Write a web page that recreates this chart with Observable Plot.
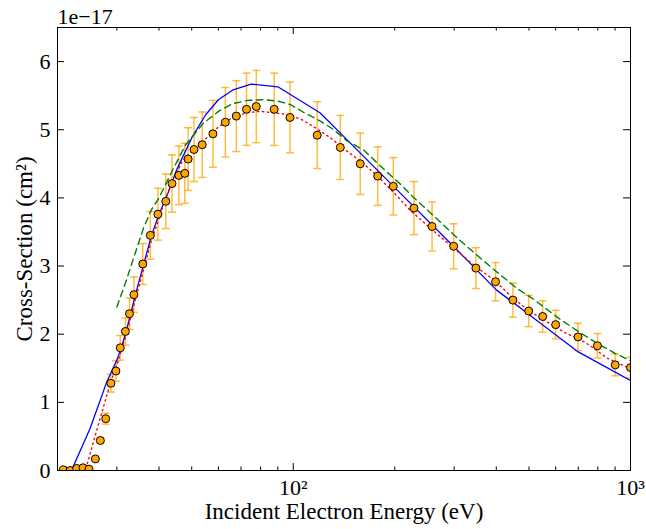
<!DOCTYPE html>
<html>
<head>
<meta charset="utf-8">
<script src="https://cdn.jsdelivr.net/npm/d3@7"></script>
<script src="https://cdn.jsdelivr.net/npm/@observablehq/plot@0.6"></script>
<style>
  html, body { margin: 0; padding: 0; background: #fff; }
</style>
</head>
<body>
<div id="chart"></div>
<script>
// Measured ionization cross-section (units of 1e-17 cm^2) with error bars
const energy = [20.8, 21.8, 22.8, 23.8, 24.8, 25.9, 26.8, 27.8, 28.8, 29.8,
  30.7, 31.8, 32.7, 33.7, 35.8, 37.7, 39.7, 41.9, 43.7, 45.8,
  47.7, 48.8, 50.8, 53.7, 57.8, 62.9, 67.8, 72.7, 77.7, 87.8,
  97.8, 117.8, 137.9, 158, 178, 198, 228, 258, 299, 348,
  398, 448, 499, 549, 600, 699, 798, 901, 1000];
const crossSection = [0.01, 0.00, 0.03, 0.04, 0.02, 0.17, 0.44, 0.76, 1.28, 1.46,
  1.80, 2.04, 2.30, 2.58, 3.03, 3.45, 3.76, 3.95, 4.21, 4.33,
  4.36, 4.57, 4.71, 4.78, 4.94, 5.11, 5.20, 5.30, 5.34, 5.30,
  5.18, 4.92, 4.74, 4.50, 4.32, 4.17, 3.85, 3.58, 3.29, 2.97,
  2.77, 2.50, 2.34, 2.26, 2.14, 1.96, 1.83, 1.55, 1.51];
const crossSectionErr = [0, 0, 0, 0, 0, 0.02, 0.04, 0.08, 0.13, 0.15,
  0.18, 0.20, 0.23, 0.26, 0.30, 0.35, 0.38, 0.40, 0.42, 0.43,
  0.44, 0.46, 0.47, 0.48, 0.49, 0.51, 0.52, 0.53, 0.53, 0.53,
  0.52, 0.49, 0.47, 0.45, 0.43, 0.42, 0.39, 0.36, 0.33, 0.30,
  0.28, 0.25, 0.23, 0.23, 0.21, 0.20, 0.18, 0.16, 0.15];

// Theory curve 1 (solid blue)
const theoryAEnergy = [22, 25, 28, 30, 31, 32, 33, 34, 36, 38, 40, 42, 45, 50, 55, 60, 66, 75, 90, 120, 150, 200, 300, 400, 500, 700, 1000];
const theoryAValue = [0, 0.62, 1.30, 1.62, 1.82, 2.05, 2.31, 2.57, 3.02, 3.45, 3.76, 4.00, 4.40, 4.88, 5.22, 5.44, 5.58, 5.67, 5.63, 5.25, 4.77, 4.15, 3.28, 2.65, 2.29, 1.74, 1.32];

// Theory curve 2 (dashed green)
const theoryBEnergy = [30, 32, 34, 36, 38, 40, 44, 48, 54, 60, 66, 73, 82, 90, 98, 107, 120, 131, 144, 162, 181, 210, 227, 267, 313, 366, 400, 461, 517, 606, 700, 800, 900, 1000];
const theoryBValue = [2.40, 2.79, 3.19, 3.56, 3.83, 4.00, 4.42, 4.78, 5.09, 5.27, 5.38, 5.43, 5.44, 5.42, 5.37, 5.26, 5.13, 5.01, 4.84, 4.70, 4.47, 4.18, 4.01, 3.69, 3.37, 3.08, 2.92, 2.67, 2.51, 2.25, 2.04, 1.86, 1.72, 1.61];

// Theory curve 3 (dotted red)
const theoryCEnergy = [24.3, 25, 26, 27, 28, 29, 30, 31, 32, 33, 34, 36, 38, 40, 42, 44, 47, 51, 56, 60, 66, 73, 80, 94, 105, 118, 129, 144, 162, 181, 203, 222, 249, 273, 306, 350, 393, 450, 505, 566, 640, 710, 760, 852, 953, 1000];
const theoryCValue = [0.03, 0.25, 0.55, 0.83, 1.10, 1.35, 1.55, 1.78, 2.00, 2.25, 2.50, 2.95, 3.38, 3.70, 4.02, 4.25, 4.55, 4.72, 4.90, 5.04, 5.18, 5.25, 5.27, 5.23, 5.16, 5.01, 4.88, 4.69, 4.50, 4.28, 4.03, 3.82, 3.60, 3.43, 3.22, 2.98, 2.80, 2.52, 2.33, 2.18, 2.02, 1.92, 1.83, 1.65, 1.54, 1.49];

// Axis ticks and labels
const xMajorTicks = [100, 1000];
const xMajorLabels = ["10\u00B2", "10\u00B3"];
const xMinorTicks = [20, 30, 40, 50, 60, 70, 80, 90, 200, 300, 400, 500, 600, 700, 800, 900];
const yTicks = [0, 1, 2, 3, 4, 5, 6];
const yTickLabels = ["0", "1", "2", "3", "4", "5", "6"];
const yOffsetLabel = "1e\u221217";
const xLabel = "Incident Electron Energy (eV)";
const yLabel = "Cross-Section (cm\u00B2)";

const W = 646, H = 529;
const mL = 57, mR = 16, mT = 27, mB = 59;
const plotW = W - mL - mR, plotH = H - mT - mB;

const points = energy.map((E, i) => ({E, v: crossSection[i], e: crossSectionErr[i]}));
const withErr = points.filter(d => d.e > 0.03);
const zip = (xs, ys) => xs.map((E, i) => ({E, v: ys[i]}));
const theoryA = zip(theoryAEnergy, theoryAValue);
const theoryB = zip(theoryBEnergy, theoryBValue);
const theoryC = zip(theoryCEnergy, theoryCValue);

// horizontal cap for error bars
const capSymbol = {
  draw(context, size) {
    const h = Math.sqrt(size / Math.PI);
    context.moveTo(-h, 0);
    context.lineTo(h, 0);
  }
};

const errColor = "orange";
const serif = "'Liberation Serif', 'DejaVu Serif', serif";

const chart = Plot.plot({
  width: W,
  height: H,
  marginLeft: mL,
  marginRight: mR,
  marginTop: mT,
  marginBottom: mB,
  style: {fontFamily: serif, background: "#fff", color: "#000"},
  x: {type: "log", domain: [20, 1000], axis: null},
  y: {domain: [0, 6.5], axis: null},
  marks: [
    // error bars
    Plot.ruleX(withErr, {x: "E", y1: d => d.v - d.e, y2: d => d.v + d.e, stroke: errColor, strokeOpacity: 0.75, strokeWidth: 1.5, clip: true}),
    Plot.dot(withErr, {x: "E", y: d => d.v - d.e, symbol: capSymbol, r: 4, fill: "none", stroke: errColor, strokeOpacity: 0.75, strokeWidth: 1.5, clip: true}),
    Plot.dot(withErr, {x: "E", y: d => d.v + d.e, symbol: capSymbol, r: 4, fill: "none", stroke: errColor, strokeOpacity: 0.75, strokeWidth: 1.5, clip: true}),
    // theory curves
    Plot.line(theoryA, {x: "E", y: "v", stroke: "blue", strokeWidth: 1.3, clip: true}),
    Plot.line(theoryB, {x: "E", y: "v", stroke: "green", strokeWidth: 1.4, strokeDasharray: "6.5,4.5", clip: true}),
    Plot.line(theoryC, {x: "E", y: "v", stroke: "red", strokeWidth: 1.4, strokeDasharray: "1.4,3.6", clip: true}),
    // measured points
    Plot.dot(points, {x: "E", y: "v", r: 4, fill: "orange", stroke: "black", strokeWidth: 1, clip: true}),
    // frame
    Plot.frame({stroke: "black", strokeWidth: 1}),
    // inward ticks: bottom & top
    Plot.ruleX(xMajorTicks, {x: d => d, insetTop: plotH - 7, stroke: "black"}),
    Plot.ruleX(xMajorTicks, {x: d => d, insetBottom: plotH - 7, stroke: "black"}),
    Plot.ruleX(xMinorTicks, {x: d => d, insetTop: plotH - 3.5, stroke: "black"}),
    Plot.ruleX(xMinorTicks, {x: d => d, insetBottom: plotH - 3.5, stroke: "black"}),
    // inward ticks: left & right
    Plot.ruleY(yTicks, {y: d => d, insetRight: plotW - 7, stroke: "black"}),
    Plot.ruleY(yTicks, {y: d => d, insetLeft: plotW - 7, stroke: "black"}),
    // tick labels
    Plot.text(xMajorTicks, {x: d => d, text: (d, i) => xMajorLabels[i], frameAnchor: "bottom", dy: 17, textAnchor: "middle", lineAnchor: "middle", fontSize: 22, fill: "black"}),
    Plot.text(yTicks, {y: d => d, text: (d, i) => yTickLabels[i], frameAnchor: "left", dx: -7, textAnchor: "end", lineAnchor: "middle", fontSize: 22, fill: "black"}),
    Plot.text([yOffsetLabel], {text: d => d, frameAnchor: "top-left", textAnchor: "start", dy: -10.7, lineAnchor: "middle", fontSize: 22, fill: "black"}),
    // axis labels
    Plot.text([xLabel], {text: d => d, frameAnchor: "bottom", dy: 41, textAnchor: "middle", lineAnchor: "middle", fontSize: 23, fill: "black"}),
    Plot.text([yLabel], {text: d => d, frameAnchor: "left", dx: -33, rotate: -90, textAnchor: "middle", lineAnchor: "middle", fontSize: 23, fill: "black"})
  ]
});

document.getElementById("chart").append(chart);
</script>
</body>
</html>
